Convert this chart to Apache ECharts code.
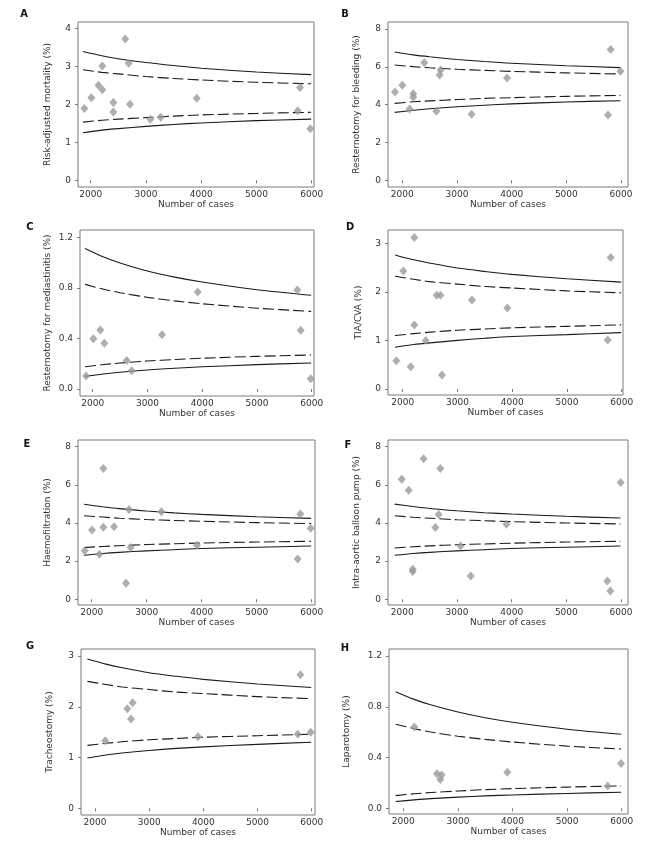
<!DOCTYPE html>
<html><head><meta charset="utf-8">
<script src="https://cdn.jsdelivr.net/npm/echarts@6/dist/echarts.min.js"></script>
<style>html,body{margin:0;padding:0;background:#fff}#c{width:650px;height:867px}</style>
</head><body><div id="c"></div>
<script>
// ---- data ----
const xTicks = [2000, 3000, 4000, 5000, 6000];
const limitCases = [1860, 2200, 2500, 3000, 3500, 4000, 5000, 5990];

const casesA = [1885, 2012, 2140, 2210, 2210, 2410, 2410, 2625, 2688, 2712, 3080, 3267, 3919, 5747, 5789, 5976];
const valuesA = [1.89, 2.17, 2.50, 2.38, 3.01, 2.05, 1.80, 3.72, 3.08, 2.00, 1.61, 1.66, 2.16, 1.83, 2.44, 1.36];
const upper998A = [3.39, 3.28, 3.20, 3.10, 3.02, 2.95, 2.85, 2.78];
const upper95A = [2.91, 2.84, 2.80, 2.73, 2.68, 2.64, 2.58, 2.54];
const lower95A = [1.53, 1.58, 1.61, 1.65, 1.69, 1.72, 1.76, 1.79];
const lower998A = [1.25, 1.32, 1.36, 1.42, 1.47, 1.51, 1.57, 1.61];
const yTicksA = [0, 1, 2, 3, 4];

const casesB = [1866, 2000, 2134, 2201, 2201, 2402, 2622, 2683, 2701, 3268, 3915, 5762, 5811, 5990];
const valuesB = [4.67, 5.02, 3.77, 4.58, 4.39, 6.22, 3.65, 5.57, 5.83, 3.49, 5.41, 3.45, 6.91, 5.76];
const upper998B = [6.78, 6.63, 6.53, 6.39, 6.28, 6.19, 6.06, 5.96];
const upper95B = [6.10, 6.01, 5.95, 5.87, 5.81, 5.76, 5.68, 5.62];
const lower95B = [4.07, 4.15, 4.20, 4.27, 4.33, 4.37, 4.44, 4.49];
const lower998B = [3.59, 3.70, 3.78, 3.89, 3.97, 4.04, 4.14, 4.21];
const yTicksB = [0, 2, 4, 6, 8];

const casesC = [1878, 2012, 2140, 2213, 2621, 2712, 3266, 3918, 5738, 5799, 5982];
const valuesC = [0.103, 0.399, 0.468, 0.362, 0.227, 0.145, 0.431, 0.769, 0.785, 0.465, 0.082];
const upper998C = [1.115, 1.047, 1.0, 0.936, 0.887, 0.848, 0.787, 0.743];
const upper95C = [0.83, 0.791, 0.764, 0.727, 0.699, 0.676, 0.641, 0.616];
const lower95C = [0.177, 0.194, 0.206, 0.222, 0.234, 0.244, 0.259, 0.27];
const lower998C = [0.10, 0.119, 0.133, 0.151, 0.165, 0.176, 0.193, 0.206];
const yTicksC = [0, 0.4, 0.8, 1.2];

const casesD = [1884, 2012, 2146, 2213, 2213, 2420, 2621, 2690, 2718, 3266, 3912, 5744, 5799];
const valuesD = [0.58, 2.43, 0.46, 3.12, 1.32, 1.00, 1.93, 1.93, 0.29, 1.83, 1.67, 1.01, 2.71];
const upper998D = [2.76, 2.66, 2.59, 2.49, 2.42, 2.36, 2.27, 2.20];
const upper95D = [2.32, 2.26, 2.21, 2.16, 2.11, 2.08, 2.02, 1.98];
const lower95D = [1.10, 1.14, 1.17, 1.21, 1.235, 1.26, 1.29, 1.32];
const lower998D = [0.86, 0.915, 0.95, 1.00, 1.044, 1.08, 1.12, 1.16];
const yTicksD = [0, 1, 2, 3];

const casesE = [1873, 2006, 2139, 2212, 2212, 2406, 2624, 2679, 2709, 3267, 3915, 5745, 5794, 5982];
const valuesE = [2.55, 3.63, 2.36, 6.85, 3.77, 3.80, 0.84, 4.70, 2.71, 4.59, 2.83, 2.11, 4.47, 3.72];
const upper998E = [4.98, 4.85, 4.75, 4.63, 4.53, 4.45, 4.33, 4.24];
const upper95E = [4.38, 4.31, 4.25, 4.18, 4.13, 4.09, 4.02, 3.97];
const lower95E = [2.71, 2.77, 2.81, 2.87, 2.91, 2.95, 3.00, 3.04];
const lower998E = [2.31, 2.40, 2.46, 2.54, 2.60, 2.66, 2.73, 2.79];
const yTicksE = [0, 2, 4, 6, 8];

const casesF = [1990, 2116, 2190, 2190, 2390, 2605, 2665, 2695, 3065, 3250, 3905, 5750, 5805, 5994];
const valuesF = [6.29, 5.71, 1.57, 1.45, 7.37, 3.76, 4.44, 6.86, 2.79, 1.22, 3.93, 0.96, 0.44, 6.12];
const upper998F = [4.99, 4.86, 4.76, 4.64, 4.54, 4.47, 4.35, 4.26];
const upper95F = [4.38, 4.30, 4.25, 4.17, 4.12, 4.07, 4.00, 3.95];
const lower95F = [2.69, 2.75, 2.80, 2.86, 2.90, 2.94, 3.00, 3.04];
const lower998F = [2.31, 2.40, 2.46, 2.54, 2.60, 2.66, 2.73, 2.79];
const yTicksF = [0, 2, 4, 6, 8];

const casesG = [2191, 2597, 2665, 2695, 3902, 5742, 5791, 5982];
const valuesG = [1.33, 1.96, 1.76, 2.08, 1.41, 1.46, 2.63, 1.50];
const upper998G = [2.94, 2.84, 2.77, 2.67, 2.60, 2.54, 2.45, 2.38];
const upper95G = [2.50, 2.44, 2.39, 2.34, 2.29, 2.26, 2.20, 2.16];
const lower95G = [1.24, 1.28, 1.31, 1.35, 1.375, 1.40, 1.43, 1.46];
const lower998G = [0.99, 1.05, 1.09, 1.14, 1.18, 1.21, 1.26, 1.30];
const yTicksG = [0, 1, 2, 3];

const casesH = [2202, 2617, 2678, 2702, 3905, 5744, 5988];
const valuesH = [0.641, 0.273, 0.226, 0.263, 0.284, 0.176, 0.352];
const upper998H = [0.919, 0.858, 0.815, 0.758, 0.713, 0.678, 0.623, 0.583];
const upper95H = [0.662, 0.627, 0.601, 0.568, 0.543, 0.522, 0.490, 0.467];
const lower95H = [0.10, 0.114, 0.124, 0.136, 0.147, 0.155, 0.167, 0.176];
const lower998H = [0.053, 0.066, 0.076, 0.088, 0.098, 0.105, 0.117, 0.126];
const yTicksH = [0, 0.4, 0.8, 1.2];

// ---- layout ----
const panels = [
  {letter:'A', name:'Risk-adjusted mortality (%)', cases:casesA, values:valuesA, lims:[upper998A,upper95A,lower95A,lower998A], yTicks:yTicksA, dec:0,
   grid:{left:78,top:22,width:236,height:165}, xr:[1770,6042], yr:[-0.176,4.166], nameGap:26, lp:[24,14]},
  {letter:'B', name:'Resternotomy for bleeding (%)', cases:casesB, values:valuesB, lims:[upper998B,upper95B,lower95B,lower998B], yTicks:yTicksB, dec:0,
   grid:{left:388,top:22,width:240,height:165}, xr:[1738,6128], yr:[-0.354,8.37], nameGap:27, lp:[345,14]},
  {letter:'C', name:'Resternotomy for mediastinitis (%)', cases:casesC, values:valuesC, lims:[upper998C,upper95C,lower95C,lower998C], yTicks:yTicksC, dec:1,
   grid:{left:80,top:230,width:234,height:166}, xr:[1768,6042], yr:[-0.0555,1.261], nameGap:28, lp:[30,227]},
  {letter:'D', name:'TIA/CVA (%)', cases:casesD, values:valuesD, lims:[upper998D,upper95D,lower95D,lower998D], yTicks:yTicksD, dec:0,
   grid:{left:388,top:230,width:235,height:165}, xr:[1732,6024], yr:[-0.124,3.274], nameGap:25, lp:[350,227]},
  {letter:'E', name:'Haemofiltration (%)', cases:casesE, values:valuesE, lims:[upper998E,upper95E,lower95E,lower998E], yTicks:yTicksE, dec:0,
   grid:{left:78,top:440,width:237,height:165}, xr:[1751,6060], yr:[-0.3,8.35], nameGap:26, lp:[27,444]},
  {letter:'F', name:'Intra-aortic balloon pump (%)', cases:casesF, values:valuesF, lims:[upper998F,upper95F,lower95F,lower998F], yTicks:yTicksF, dec:0,
   grid:{left:388,top:440,width:240,height:165}, xr:[1738,6128], yr:[-0.3,8.35], nameGap:27, lp:[348,445]},
  {letter:'G', name:'Tracheostomy (%)', cases:casesG, values:valuesG, lims:[upper998G,upper95G,lower95G,lower998G], yTicks:yTicksG, dec:0,
   grid:{left:81,top:649,width:234,height:166}, xr:[1742,6061], yr:[-0.132,3.138], nameGap:27, lp:[30,646]},
  {letter:'H', name:'Laparotomy (%)', cases:casesH, values:valuesH, lims:[upper998H,upper95H,lower95H,lower998H], yTicks:yTicksH, dec:1,
   grid:{left:389,top:649,width:239,height:165}, xr:[1738,6115], yr:[-0.045,1.255], nameGap:38, lp:[345,648]}
];

const FONT = 'DejaVu Sans';
const TXT = '#333';
const AX = '#7a7a7a';
const grids = [], xAxes = [], yAxes = [], series = [], graphics = [];

panels.forEach((p, i) => {
  grids.push(Object.assign({show:true, borderColor:AX, borderWidth:1, backgroundColor:'transparent'}, p.grid));
  xAxes.push({
    gridIndex:i, type:'value', min:p.xr[0], max:p.xr[1],
    axisLine:{show:false},
    axisTick:{show:true, inside:false, length:3, customValues:xTicks, lineStyle:{color:AX}},
    axisLabel:{customValues:xTicks, fontSize:9, fontFamily:FONT, color:TXT, margin:3,
      formatter: v => String(Math.round(v))},
    splitLine:{show:false},
    name:'Number of cases', nameLocation:'middle', nameGap:9,
    nameTextStyle:{fontSize:9, fontFamily:FONT, color:TXT}
  });
  yAxes.push({
    gridIndex:i, type:'value', min:p.yr[0], max:p.yr[1],
    axisLine:{show:false},
    axisTick:{show:true, inside:false, length:3, customValues:p.yTicks, lineStyle:{color:AX}},
    axisLabel:{customValues:p.yTicks, fontSize:9, fontFamily:FONT, color:TXT, margin:7,
      formatter: v => Number(v).toFixed(p.dec)},
    splitLine:{show:false},
    name:p.name, nameLocation:'middle', nameGap:p.nameGap,
    nameTextStyle:{fontSize:9, fontFamily:FONT, color:TXT}
  });
  const types = ['solid', [11,4], [11,4], 'solid'];
  p.lims.forEach((arr, k) => {
    series.push({
      type:'line', xAxisIndex:i, yAxisIndex:i, showSymbol:false, smooth:0.3,
      data: limitCases.map((c, j) => [c, arr[j]]),
      lineStyle:{color:'#1a1a1a', width:1.1, type:types[k]},
      silent:true, z:2
    });
  });
  series.push({
    type:'scatter', xAxisIndex:i, yAxisIndex:i, symbol:'diamond', symbolSize:[8,9],
    data: p.cases.map((c, j) => [c, p.values[j]]),
    itemStyle:{color:'#9a9a9a'}, z:3
  });
  graphics.push({
    type:'text', x:p.lp[0], y:p.lp[1],
    style:{text:p.letter, fill:'#111', font:'bold 11px "Liberation Sans Narrow", "DejaVu Sans Condensed", sans-serif',
      align:'center', verticalAlign:'middle', textAlign:'center', textVerticalAlign:'middle'}
  });
});

const chart = echarts.init(document.getElementById('c'), null, {renderer:'canvas'});
chart.setOption({
  animation:false,
  backgroundColor:'#fff',
  grid:grids, xAxis:xAxes, yAxis:yAxes, series:series, graphic:graphics
});
</script></body></html>
